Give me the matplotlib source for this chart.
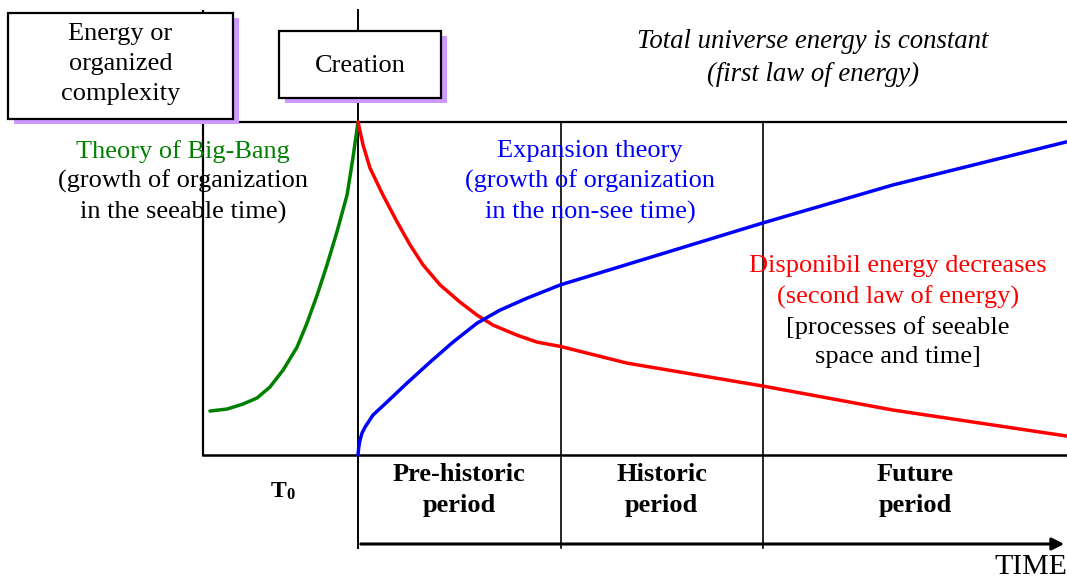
import matplotlib
matplotlib.use("Agg")
from matplotlib import pyplot as plt
from matplotlib.patches import Rectangle, FancyArrowPatch

plt.rcParams['font.family'] = ['Liberation Serif', 'DejaVu Serif']

# time axis: 0 = creation, 1 = end of pre-historic, 2 = end of historic period
# energy axis: 0 = bottom line, 1 = creation peak
big_bang_t = [-0.731, -0.647, -0.568, -0.499, -0.435, -0.370, -0.301, -0.252,
              -0.202, -0.153, -0.104, -0.054, -0.025, 0.0]
big_bang_e = [0.132, 0.138, 0.153, 0.171, 0.204, 0.255, 0.324, 0.396,
              0.480, 0.571, 0.670, 0.781, 0.892, 1.0]

disponibil_t = [0.0, 0.025, 0.059, 0.123, 0.193, 0.257, 0.321, 0.405, 0.504, 0.588,
                0.667, 0.785, 0.884, 1.0, 1.328, 2.0, 2.642, 3.51]
disponibil_e = [1.0, 0.931, 0.862, 0.781, 0.700, 0.631, 0.571, 0.511, 0.459, 0.420,
                0.390, 0.360, 0.339, 0.326, 0.276, 0.207, 0.135, 0.056]

expansion_t = [0.0, 0.004, 0.010, 0.020, 0.035, 0.074, 0.143, 0.242, 0.356, 0.469,
               0.588, 0.701, 0.835, 1.0, 2.0, 2.642, 3.51]
expansion_e = [0.0, 0.025, 0.045, 0.066, 0.084, 0.120, 0.159, 0.216, 0.279, 0.339,
               0.396, 0.435, 0.471, 0.511, 0.697, 0.811, 0.942]

period_labels = ['Pre-historic\nperiod', 'Historic\nperiod', 'Future\nperiod']
period_centers = [0.5, 1.5, 2.75]

# pixel -> data helpers, only for layout
def px(x):
    return (x - 358) / 202.5

def py(y):
    return (455 - y) / 333

fig = plt.figure(figsize=(10.67, 5.79), dpi=100)
ax = fig.add_axes([0, 0, 1, 1])
ax.set_xlim(px(0), px(1067))
ax.set_ylim(py(579), py(0))
ax.axis('off')

shadow = '#CC99FF'
left = px(203)
right = px(1067)
fs = 19
ls = 1.45

# frame lines
ax.plot([left, left], [py(11), 0], color='black', lw=1.6, zorder=2)
ax.plot([left, right], [1, 1], color='black', lw=1.6, zorder=2)
ax.plot([left, right], [0, 0], color='black', lw=1.8, zorder=2)
ax.plot([0, 0], [py(10), py(548)], color='black', lw=1.4, zorder=2)
for t in [1, 2]:
    ax.plot([t, t], [1, py(548)], color='black', lw=1.2, zorder=2)

# time arrow
ax.add_patch(FancyArrowPatch((0, py(544)), (right, py(544)), arrowstyle='-|>',
                             mutation_scale=18, color='black', lw=2.2, zorder=2))
ax.text(px(1067), py(567), 'TIME', fontsize=21.5, ha='right', va='center')

# curves
ax.plot(big_bang_t, big_bang_e, color='green', lw=2.5, solid_capstyle='round',
        solid_joinstyle='round', zorder=3)
ax.plot(disponibil_t, disponibil_e, color='red', lw=2.5, solid_capstyle='round',
        solid_joinstyle='round', zorder=3)
ax.plot(expansion_t, expansion_e, color='blue', lw=2.5, solid_capstyle='round',
        solid_joinstyle='round', zorder=3)

# boxes with shadow
def shadow_box(x0, y0, x1, y1, label, text_y):
    ax.add_patch(Rectangle((px(x0 + 6), py(y1 + 5)), px(x1) - px(x0), py(y0) - py(y1),
                           facecolor=shadow, edgecolor='none', zorder=4))
    ax.add_patch(Rectangle((px(x0), py(y1)), px(x1) - px(x0), py(y0) - py(y1),
                           facecolor='white', edgecolor='black', lw=1.6, zorder=5))
    ax.text(px((x0 + x1) / 2), py(text_y), label, fontsize=fs,
            ha='center', va='center', linespacing=ls, zorder=6)

shadow_box(8, 13, 233, 119, 'Energy or\norganized\ncomplexity', 64)
shadow_box(279, 31, 441, 98, 'Creation', 66)

ax.text(px(813), py(58), 'Total universe energy is constant\n(first law of energy)',
        fontsize=19.3, style='italic', ha='center', va='center', linespacing=ls)

ax.text(px(183), py(152), 'Theory of Big-Bang', color='green', fontsize=fs,
        ha='center', va='center')
ax.text(px(183), py(197), '(growth of organization\nin the seeable time)', color='black',
        fontsize=fs, ha='center', va='center', linespacing=ls)

ax.text(px(590), py(182), 'Expansion theory\n(growth of organization\nin the non-see time)',
        color='blue', fontsize=fs, ha='center', va='center', linespacing=ls)

ax.text(px(898), py(282), 'Disponibil energy decreases\n(second law of energy)',
        color='red', fontsize=fs, ha='center', va='center', linespacing=ls)
ax.text(px(898), py(342), '[processes of seeable\nspace and time]', color='black',
        fontsize=fs, ha='center', va='center', linespacing=ls)

# period labels
ax.text(px(286), py(497), 'T', fontsize=17, fontweight='bold', ha='right', va='baseline')
ax.text(px(286), py(499), '0', fontsize=12, fontweight='bold', ha='left', va='baseline')
for c, lab in zip(period_centers, period_labels):
    ax.text(c, py(490), lab, fontsize=fs, fontweight='bold', ha='center', va='center',
            linespacing=ls)

fig.savefig('out.png', dpi=100)
